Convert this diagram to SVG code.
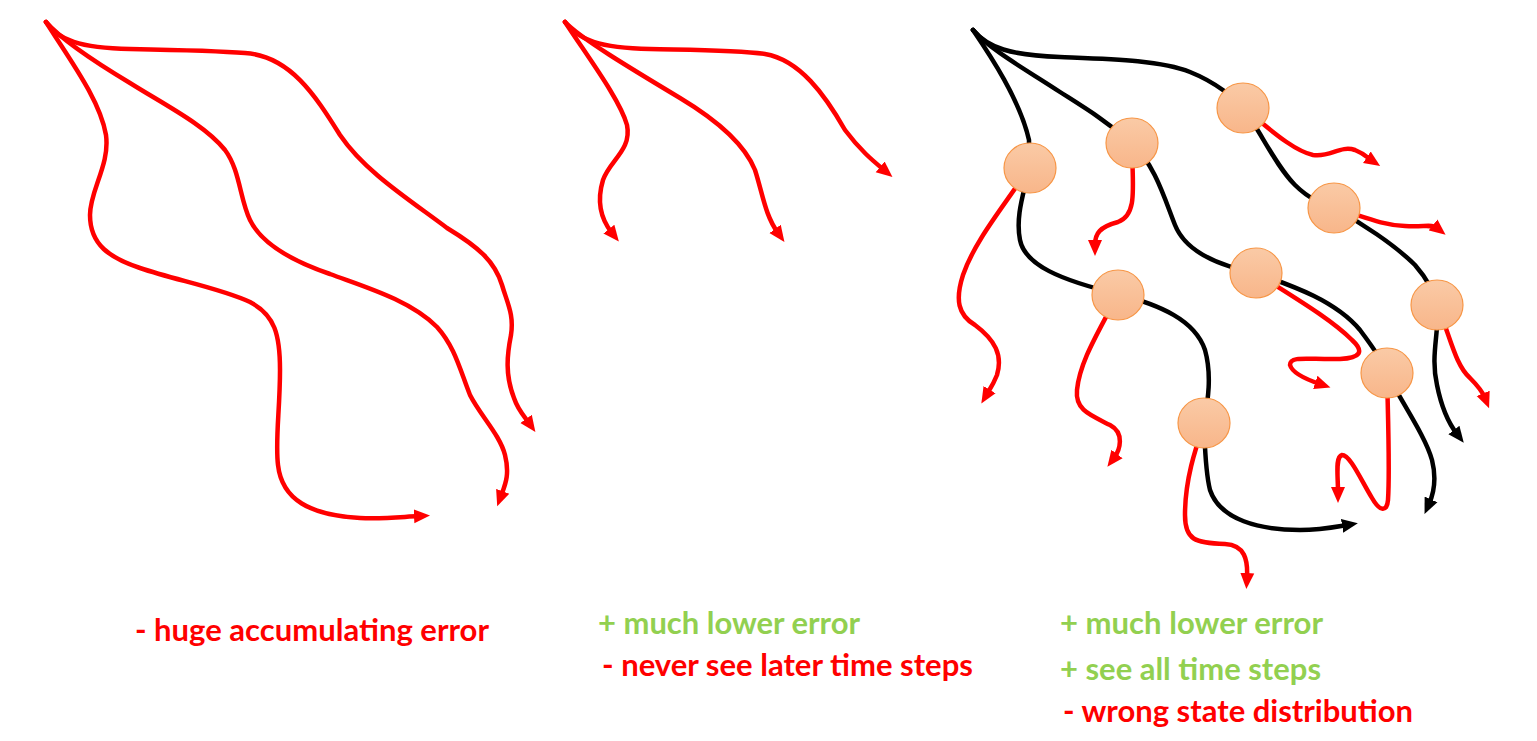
<svg xmlns="http://www.w3.org/2000/svg" width="1537" height="741" viewBox="0 0 1537 741">
<style>
.r{fill:none;stroke:#FF0000;stroke-width:4.5;stroke-linecap:round;stroke-linejoin:round}
.k{fill:none;stroke:#000000;stroke-width:4.5;stroke-linecap:round;stroke-linejoin:round}
.ra{marker-end:url(#ah-r)}
.ka{marker-end:url(#ah-k)}
.node{fill:url(#ng);stroke:#F79646;stroke-width:1.2}
.t{font-family:Lato,"Open Sans","Liberation Sans",sans-serif;font-weight:700;font-size:30px}
.g{fill:#92D050}
.rd{fill:#FF0000}
</style>
<defs>
<linearGradient id="ng" x1="0" y1="0" x2="0" y2="1">
<stop offset="0" stop-color="#FACAA6"/>
<stop offset="1" stop-color="#F8B68A"/>
</linearGradient>
<marker id="ah-r" markerUnits="userSpaceOnUse" markerWidth="18" markerHeight="16" viewBox="0 -8 18 16" refX="5" refY="0" orient="auto">
<path d="M0,-7 L16,0 L0,7 z" fill="#FF0000"/>
</marker>
<marker id="ah-k" markerUnits="userSpaceOnUse" markerWidth="18" markerHeight="16" viewBox="0 -8 18 16" refX="5" refY="0" orient="auto">
<path d="M0,-7 L16,0 L0,7 z" fill="#000000"/>
</marker>
</defs>

<g id="connectors">
<!-- left panel -->
<path class="r ra" d="M46,22 C58,40 80,48 130,49 C180,50 220,51 245,53 C290,56 315,95 340,135 C365,172 410,200 447,228 C480,248 495,262 502,285 C508,305 514,315 511,335 C507,355 505,375 514,398 C518,410 524,416 529,423"/>
<path class="r ra" d="M46,22 C60,38 95,62 130,83 C165,105 205,125 225,150 C240,170 240,200 250,220 C262,245 295,262 330,274 C365,287 410,300 437,327 C455,347 460,370 470,395 C480,415 500,435 505,455 C510,475 505,485 501,496"/>
<path class="r ra" d="M46,22 C70,60 100,100 106,135 C110,165 90,190 90,215 C90,245 110,258 140,268 C175,280 220,288 250,302 C275,315 280,335 280,370 C280,410 275,440 278,465 C282,500 310,515 360,518 C385,519 400,517 419,516"/>
<!-- middle panel -->
<path class="r ra" d="M565,22 C590,60 620,100 627,125 C632,150 610,160 603,180 C597,200 600,218 612,233"/>
<path class="r ra" d="M565,22 C580,38 630,68 680,98 C720,122 745,145 755,170 C763,195 765,215 778,233"/>
<path class="r ra" d="M565,22 C578,40 600,48 650,49 C700,50 740,50 765,54 C800,60 825,95 845,130 C860,150 872,160 884,170"/>
<!-- right panel black -->
<path class="k ka" d="M973,30 C988,48 1010,55 1060,57 C1110,59 1160,60 1190,72 C1215,82 1235,98 1243,108 C1260,130 1275,165 1295,185 C1310,200 1325,205 1334,208 C1360,222 1395,245 1415,265 C1428,280 1435,295 1437,305 C1440,330 1430,355 1437,385 C1442,410 1450,425 1457,434"/>
<path class="k ka" d="M973,30 C990,50 1030,72 1060,92 C1085,108 1105,120 1132,143 C1155,165 1165,200 1175,225 C1185,250 1215,265 1256,273 C1290,285 1335,300 1360,330 C1375,350 1385,365 1387,373 C1400,400 1425,435 1432,460 C1437,480 1433,495 1429,504"/>
<path class="k ka" d="M973,30 C990,55 1020,100 1029,140 L1029,168 C1025,190 1015,215 1020,240 C1025,265 1060,280 1118,294 C1160,305 1195,320 1205,350 C1212,375 1208,400 1204,424 C1205,445 1205,470 1210,490 C1220,520 1260,530 1300,530 C1320,530 1335,527 1347,525"/>
<!-- right panel red -->
<path class="r ra" d="M1243,108 C1260,120 1290,150 1313,155 C1330,158 1340,145 1355,150 C1365,154 1368,158 1371,160"/>
<path class="r ra" d="M1132,150 C1133,190 1137,215 1118,222 C1100,227 1095,233 1095,245"/>
<path class="r ra" d="M1029,168 C1005,205 975,240 963,275 C955,300 958,315 975,325 C995,340 1003,355 997,375 C993,385 990,389 987,394"/>
<path class="r ra" d="M1334,208 C1360,215 1380,225 1405,226 C1425,227 1432,224 1437,228"/>
<path class="r ra" d="M1256,273 C1290,295 1330,318 1352,340 C1365,352 1360,358 1340,359 C1310,360 1290,355 1290,365 C1292,372 1305,379 1320,384"/>
<path class="r ra" d="M1118,294 C1100,330 1080,360 1077,390 C1075,410 1090,415 1110,425 C1125,433 1120,450 1114,458"/>
<path class="r ra" d="M1437,305 C1450,335 1455,365 1470,378 C1480,388 1483,393 1485,398"/>
<path class="r ra" d="M1387,373 C1388,420 1390,470 1388,500 C1387,512 1380,512 1372,498 C1360,478 1350,455 1342,455 C1335,457 1338,475 1338,492"/>
<path class="r ra" d="M1204,424 C1195,450 1185,480 1185,515 C1185,540 1195,543 1225,544 C1245,545 1248,560 1247,578"/>
</g>

<g id="n1"><ellipse class="node" cx="1243" cy="108" rx="26" ry="25"/></g>
<g id="n2"><ellipse class="node" cx="1132" cy="143" rx="26" ry="25"/></g>
<g id="n3"><ellipse class="node" cx="1030" cy="168" rx="26" ry="25"/></g>
<g id="n4"><ellipse class="node" cx="1334" cy="208" rx="26" ry="25"/></g>
<g id="n5"><ellipse class="node" cx="1256" cy="273" rx="26" ry="25"/></g>
<g id="n6"><ellipse class="node" cx="1118" cy="295" rx="26" ry="25"/></g>
<g id="n7"><ellipse class="node" cx="1437" cy="305" rx="26" ry="25"/></g>
<g id="n8"><ellipse class="node" cx="1387" cy="373" rx="26" ry="25"/></g>
<g id="n9"><ellipse class="node" cx="1204" cy="423" rx="26" ry="25"/></g>

<g id="labels">
<text class="t rd" x="135" y="641" textLength="354" lengthAdjust="spacingAndGlyphs">- huge accumulating error</text>
<text class="t g" x="598" y="634" textLength="262" lengthAdjust="spacingAndGlyphs">+ much lower error</text>
<text class="t rd" x="602" y="676" textLength="371" lengthAdjust="spacingAndGlyphs">- never see later time steps</text>
<text class="t g" x="1060" y="634" textLength="263" lengthAdjust="spacingAndGlyphs">+ much lower error</text>
<text class="t g" x="1060" y="680" textLength="261" lengthAdjust="spacingAndGlyphs">+ see all time steps</text>
<text class="t rd" x="1063" y="722" textLength="350" lengthAdjust="spacingAndGlyphs">- wrong state distribution</text>
</g>
</svg>
